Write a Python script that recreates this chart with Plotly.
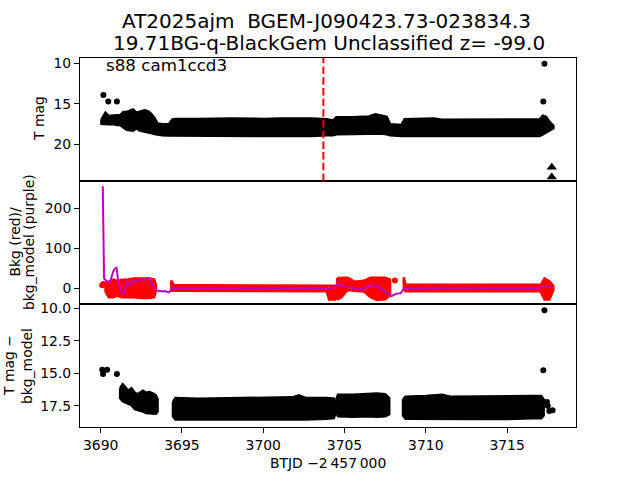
import plotly.graph_objects as go
from plotly.subplots import make_subplots

# ---------------- data ----------------
TITLE_1 = "AT2025ajm  BGEM-J090423.73-023834.3"
TITLE_2 = "19.71BG-q-BlackGem Unclassified z= -99.0"
SECTOR_TEXT = "s88 cam1ccd3"
EVENT_T = 3703.7

# top panel: dense T-mag band (envelope of the dense point cloud)
T_BAND_T = [3690.05, 3690.2, 3690.3, 3690.5, 3690.8, 3691.0, 3691.2, 3691.4, 3691.6, 3691.8,
            3692.0, 3692.2, 3692.4, 3692.7, 3692.9, 3693.1, 3693.3, 3693.5, 3693.8, 3694.2,
            3694.4, 3694.6, 3696.0, 3698.0, 3700.0, 3701.0, 3703.0, 3703.9, 3704.3, 3704.5,
            3705.5, 3706.5, 3706.9, 3707.2, 3707.6, 3707.8, 3708.5, 3708.7, 3709.5, 3710.5,
            3711.0, 3714.0, 3716.5, 3717.0, 3717.2, 3717.4, 3717.6, 3717.85]
T_BAND_BRIGHT = [16.9, 16.3, 16.1, 16.5, 16.4, 16.4, 16.4, 16.0, 16.0, 15.8,
                 15.7, 16.1, 16.0, 15.8, 15.9, 16.2, 16.7, 17.4, 17.5, 17.5,
                 16.95, 16.85, 16.85, 16.8, 16.85, 16.8, 16.8, 16.9, 17.05, 16.65,
                 16.65, 16.55, 16.3, 16.45, 16.6, 17.5, 17.6, 16.9, 16.85, 16.8,
                 16.95, 16.9, 16.9, 16.9, 16.45, 16.6, 17.2, 17.7]
T_BAND_FAINT = [17.45, 17.5, 17.5, 17.5, 17.5, 17.6, 17.6, 17.9, 18.2, 18.25,
                18.3, 18.0, 18.3, 18.4, 18.5, 18.6, 18.7, 18.8, 18.85, 18.9,
                18.95, 18.95, 18.95, 18.95, 18.95, 18.95, 18.95, 18.85, 18.85, 18.75,
                18.7, 18.65, 18.65, 18.65, 18.75, 18.85, 18.95, 18.95, 18.95, 18.95,
                18.95, 18.95, 18.95, 18.95, 18.75, 18.6, 18.3, 18.0]
T_DOTS_T = [3690.17, 3690.47, 3691.0, 3717.23, 3717.3]
T_DOTS_MAG = [13.9, 14.7, 14.7, 14.7, 10.07]
T_LIMIT_T = [3717.75, 3717.75]
T_LIMIT_MAG = [22.8, 24.0]

# middle panel: background (red, envelope of dense points) and model (purple line)
BKG_SEG_T = [
    [3690.3, 3690.5, 3690.8, 3691.0, 3691.3, 3691.6, 3692.0, 3692.5, 3693.0, 3693.3, 3693.4],
    [3694.35, 3694.5, 3696.0, 3698.0, 3700.0, 3702.0, 3703.9, 3704.05, 3704.4],
    [3704.55, 3704.8, 3705.2, 3705.6, 3706.2, 3706.6, 3707.0, 3707.5, 3707.8],
    [3708.65, 3708.75, 3710.0, 3712.0, 3714.0, 3716.0, 3717.0, 3717.1, 3717.3, 3717.6, 3717.85],
]
BKG_SEG_HI = [
    [14, 18, 22, 18, 22, 22, 25, 25, 25, 22, 8],
    [20, 8, 8, 8, 8, 8, 8, 8, 7],
    [26, 27, 27, 17, 19, 27, 27, 27, 22],
    [28, 9, 9, 9, 9, 9, 9, 11, 25, 18, 6],
]
BKG_SEG_LO = [
    [-8, -22, -22, -18, -22, -22, -22, -24, -24, -22, -4],
    [-6, -7, -7, -7, -7, -7, -7, -28, -28],
    [-28, -22, -4, -6, -8, -22, -29, -27, -18],
    [-2, -7, -7, -7, -7, -7, -7, -11, -28, -28, -4],
]
BKG_DOTS_T = [3690.1, 3690.17, 3708.1]
BKG_DOTS_V = [8, 11, 20]
MODEL_T = [3690.13, 3690.21, 3690.37, 3690.57, 3690.77, 3690.88, 3690.98, 3691.08, 3691.22, 3691.43,
           3691.6, 3691.8, 3692.0, 3692.4, 3692.8, 3693.0, 3693.2, 3693.4, 3693.6, 3694.0,
           3694.2, 3694.4, 3695.0, 3697.0, 3699.0, 3701.0, 3703.0, 3704.2, 3704.6, 3705.3,
           3706.1, 3706.5, 3706.9, 3707.0, 3707.5, 3707.9, 3708.2, 3708.45, 3708.65, 3710.0,
           3712.0, 3714.0, 3716.0, 3716.9, 3717.1, 3717.4, 3717.85]
MODEL_V = [256, 25, 18, 15, 42, 50, 52, 17, -4, -15,
           17, 8, 18, 20, 23, 25, 8, -4, -7, -7,
           -10, 0, 0, 1, 0, 0, 0, 0, 10, 2,
           -3, 7, 8, 5, -8, -19, -13, -12, -1, 0,
           1, 0, 0, 0, 4, 4, 3]

# bottom panel: T mag - bkg_model (envelope of dense points per segment)
DIFF_SEG_T = [
    [3691.2, 3691.35, 3691.5, 3691.7, 3691.9, 3692.1, 3692.3, 3692.6, 3692.8, 3693.0, 3693.2, 3693.4, 3693.5],
    [3694.45, 3694.6, 3696.0, 3698.0, 3700.0, 3701.8, 3702.2, 3702.6, 3703.9, 3704.35, 3704.42],
    [3704.5, 3704.6, 3705.5, 3706.5, 3707.0, 3707.5, 3707.75],
    [3708.6, 3708.75, 3710.0, 3711.0, 3711.5, 3713.0, 3715.0, 3716.5, 3717.1, 3717.25],
]
DIFF_SEG_BRIGHT = [
    [16.15, 15.85, 16.05, 16.35, 16.15, 16.5, 16.6, 16.35, 16.5, 16.45, 16.55, 16.7, 17.0],
    [17.2, 16.9, 16.95, 16.9, 16.9, 16.85, 16.7, 16.9, 16.9, 16.95, 17.2],
    [17.0, 16.65, 16.65, 16.6, 16.55, 16.6, 16.9],
    [17.0, 16.8, 16.75, 16.65, 16.8, 16.77, 16.75, 16.75, 16.75, 17.0],
]
DIFF_SEG_FAINT = [
    [16.9, 17.15, 17.25, 17.35, 17.45, 17.75, 17.85, 17.95, 18.05, 18.05, 18.1, 18.1, 17.95],
    [18.3, 18.55, 18.55, 18.57, 18.55, 18.55, 18.55, 18.55, 18.5, 18.45, 18.2],
    [18.0, 18.3, 18.35, 18.3, 18.35, 18.3, 18.15],
    [18.25, 18.5, 18.5, 18.52, 18.52, 18.52, 18.52, 18.45, 18.45, 18.25],
]
DIFF_DOTS_T = [3690.1, 3690.15, 3690.4, 3691.0, 3717.23, 3717.3, 3717.45, 3717.5, 3717.6, 3717.8]
DIFF_DOTS_MAG = [14.73, 15.05, 14.73, 15.05, 14.76, 10.15, 17.2, 17.5, 17.9, 17.85]

# axis settings
X_RANGE = [3688.73, 3719.24]
X_TICKS = [3690, 3695, 3700, 3705, 3710, 3715]
TOP_RANGE = [24.48, 9.37]
TOP_TICKS = [10, 15, 20]
MID_RANGE = [-39, 269]
MID_TICKS = [0, 100, 200]
BOT_RANGE = [19.13, 9.67]
BOT_TICKS = [10.0, 12.5, 15.0, 17.5]

# ---------------- figure ----------------
FONT = "DejaVu Sans"
BLACK = "#000000"
RED = "#ff0000"
PURPLE = "#bf00bf"

fig = make_subplots(rows=3, cols=1, shared_xaxes=True, vertical_spacing=0)


def band(t, hi, lo, color, row):
    xs = list(t) + list(t)[::-1] + [t[0]]
    ys = list(hi) + list(lo)[::-1] + [hi[0]]
    fig.add_trace(go.Scatter(x=xs, y=ys, mode="lines", fill="toself", fillcolor=color,
                             line=dict(color=color, width=2.5), hoverinfo="skip",
                             showlegend=False), row=row, col=1)


# top panel
band(T_BAND_T, T_BAND_BRIGHT, T_BAND_FAINT, BLACK, 1)
fig.add_trace(go.Scatter(x=T_DOTS_T, y=T_DOTS_MAG, mode="markers",
                         marker=dict(color=BLACK, size=6), showlegend=False), row=1, col=1)
fig.add_trace(go.Scatter(x=T_LIMIT_T, y=T_LIMIT_MAG, mode="markers",
                         marker=dict(color=BLACK, size=9, symbol="triangle-up"),
                         showlegend=False), row=1, col=1)

# middle panel
for t, hi, lo in zip(BKG_SEG_T, BKG_SEG_HI, BKG_SEG_LO):
    band(t, hi, lo, RED, 2)
fig.add_trace(go.Scatter(x=BKG_DOTS_T, y=BKG_DOTS_V, mode="markers",
                         marker=dict(color=RED, size=6), showlegend=False), row=2, col=1)
fig.add_trace(go.Scatter(x=MODEL_T, y=MODEL_V, mode="lines",
                         line=dict(color=PURPLE, width=2), showlegend=False), row=2, col=1)

# bottom panel
for t, hi, lo in zip(DIFF_SEG_T, DIFF_SEG_BRIGHT, DIFF_SEG_FAINT):
    band(t, hi, lo, BLACK, 3)
fig.add_trace(go.Scatter(x=DIFF_DOTS_T, y=DIFF_DOTS_MAG, mode="markers",
                         marker=dict(color=BLACK, size=6), showlegend=False), row=3, col=1)

# event line (top panel only)
fig.add_shape(type="line", xref="x", yref="y domain", x0=EVENT_T, x1=EVENT_T, y0=0, y1=1,
              line=dict(color=RED, width=2, dash="7.5px,3.2px"), layer="above")

axis_common = dict(showline=True, linecolor=BLACK, linewidth=1, mirror=True, automargin=False,
                   showgrid=False, zeroline=False, tickfont=dict(family=FONT, size=13.9, color=BLACK))

for r in (1, 2, 3):
    xa = dict(axis_common, range=X_RANGE, tickvals=X_TICKS)
    if r < 3:
        xa.update(showticklabels=False, ticks="")
    else:
        xa.update(ticks="outside", ticklen=5, tickwidth=1, tickcolor=BLACK)
    fig.update_xaxes(row=r, col=1, **xa)

fig.update_yaxes(row=1, col=1, range=TOP_RANGE, tickvals=TOP_TICKS,
                 ticks="outside", ticklen=5, tickcolor=BLACK, **axis_common)
fig.update_yaxes(row=2, col=1, range=MID_RANGE, tickvals=MID_TICKS,
                 ticks="outside", ticklen=5, tickcolor=BLACK, **axis_common)
fig.update_yaxes(row=3, col=1, range=BOT_RANGE, tickvals=BOT_TICKS, tickformat=".1f",
                 ticks="outside", ticklen=5, tickcolor=BLACK, **axis_common)

# Plot area on the page: x 80..576, y 58..427 (page body margin removed below)
PLOT_L, PLOT_R, PLOT_T, PLOT_B = 80, 576, 58, 427
FIG_W, FIG_H = 640, 480


def px(xp):
    return (xp - PLOT_L) / (PLOT_R - PLOT_L)


def py(yp):
    return (PLOT_B - yp) / (PLOT_B - PLOT_T)


annots = []


def label(text, xp, yp, size=13.9, angle=0, xanchor="center"):
    annots.append(dict(text=text, xref="paper", yref="paper", x=px(xp), y=py(yp),
                       xanchor=xanchor, yanchor="middle", showarrow=False, textangle=angle,
                       font=dict(family=FONT, size=size, color=BLACK)))


label(TITLE_1, 326, 21, size=20)
label(TITLE_2, 329, 43, size=20)
label(SECTOR_TEXT, 104, 65, size=16.7, xanchor="left")
label("T mag", 39, 119, angle=-90)
label("Bkg (red)/", 14.5, 242, angle=-90)
label("bkg_model (purple)", 29, 242, angle=-90)
label("T mag \u2212", 9, 366, angle=-90)
label("bkg_model", 27, 366, angle=-90)
label("BTJD \u22122\u2009457\u2009000", 328, 463)

fig.update_layout(width=FIG_W, height=FIG_H,
                  margin=dict(l=PLOT_L, r=FIG_W - PLOT_R, t=PLOT_T, b=FIG_H - PLOT_B,
                              autoexpand=False),
                  plot_bgcolor="white", paper_bgcolor="white", annotations=annots,
                  font=dict(family=FONT, color=BLACK), showlegend=False)

fig.write_html("out.html", config={"displayModeBar": False},
               post_script="document.body.style.margin='0';document.body.style.padding='0';")
